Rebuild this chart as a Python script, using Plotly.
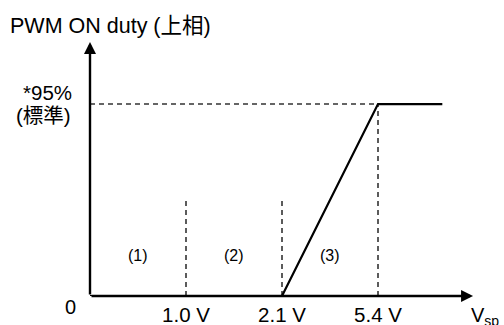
import plotly.graph_objects as go

# schematic x positions (evenly spaced, not to scale) and their labels
tick_pos = [1, 2, 3]
tick_text = ["1.0 V", "2.1 V", "5.4 V"]

# PWM ON duty curve (%), on the schematic x scale
duty_x = [0, 2, 3, 3.67]
duty_y = [0, 0, 95, 95]

duty_max = 95
region_top = 48          # height of the dashed dividers at 1.0 V / 2.1 V
region_x = [0.5, 1.5, 2.5]
region_text = ["(1)", "(2)", "(3)"]
region_y = 20

x_end = 3.99
y_end = 125.7

FONT = "Arial, 'Liberation Sans', 'Noto Sans CJK JP', sans-serif"
DASH = "5px,4px"

fig = go.Figure()

# dashed guide lines
fig.add_trace(go.Scatter(x=[0, tick_pos[2]], y=[duty_max, duty_max], mode="lines",
                         line=dict(color="#333333", width=1.6, dash=DASH), hoverinfo="skip"))
fig.add_trace(go.Scatter(x=[tick_pos[2], tick_pos[2]], y=[0, duty_max], mode="lines",
                         line=dict(color="#333333", width=1.6, dash=DASH), hoverinfo="skip"))
for xp in tick_pos[:2]:
    fig.add_trace(go.Scatter(x=[xp, xp], y=[0, region_top], mode="lines",
                             line=dict(color="#333333", width=1.6, dash=DASH), hoverinfo="skip"))

# duty curve
fig.add_trace(go.Scatter(x=duty_x, y=duty_y, mode="lines",
                         line=dict(color="black", width=2.2), hoverinfo="skip"))

# axes as arrows
fig.add_annotation(x=x_end, y=0, ax=0, ay=0, xref="x", yref="y", axref="x", ayref="y",
                   text="", showarrow=True, arrowhead=2, arrowsize=1, arrowwidth=2.4,
                   arrowcolor="black")
fig.add_annotation(x=0, y=y_end, ax=0, ay=0, xref="x", yref="y", axref="x", ayref="y",
                   text="", showarrow=True, arrowhead=2, arrowsize=1, arrowwidth=2.4,
                   arrowcolor="black")

# region labels
for xp, t in zip(region_x, region_text):
    fig.add_annotation(x=xp, y=region_y, text=t, showarrow=False,
                       font=dict(size=16, color="black", family=FONT))

# y labels
fig.add_annotation(x=0, y=duty_max, text="*95%", showarrow=False,
                   xanchor="right", xshift=-16, yshift=12,
                   font=dict(size=20.5, color="black", family=FONT))
fig.add_annotation(x=0, y=duty_max, text="(標準)", showarrow=False,
                   xanchor="right", xshift=-17, yshift=-11,
                   font=dict(size=20.5, color="black", family=FONT))
fig.add_annotation(x=0, y=0, text="0", showarrow=False, xanchor="right", xshift=-12,
                   yshift=-11, font=dict(size=20, color="black", family=FONT))
fig.add_annotation(x=0, y=1, xref="x", yref="paper", text="PWM ON duty (上相)",
                   showarrow=False, xanchor="left", xshift=-82, yanchor="bottom", yshift=2,
                   font=dict(size=21.5, color="black", family=FONT))
fig.add_annotation(x=x_end, y=0, text="V<sub>sp</sub>", showarrow=False, xanchor="left",
                   xshift=-4, yshift=-20, font=dict(size=20, color="black", family=FONT))

fig.update_xaxes(range=[0, 4.0], tickvals=tick_pos, ticktext=tick_text, showgrid=False,
                 zeroline=False, showline=False, ticks="", automargin=False,
                 ticklabelstandoff=4,
                 tickfont=dict(size=20.5, color="black", family=FONT))
fig.update_yaxes(range=[0, y_end], showticklabels=False, showgrid=False, zeroline=False,
                 showline=False, ticks="", automargin=False)
fig.update_layout(width=504, height=325, margin=dict(l=90, r=30, t=42, b=29),
                  plot_bgcolor="white", paper_bgcolor="white", showlegend=False)

fig.write_html("out.html", config={"displayModeBar": False},
               post_script="document.body.style.margin='0';document.body.style.overflow='hidden';")
